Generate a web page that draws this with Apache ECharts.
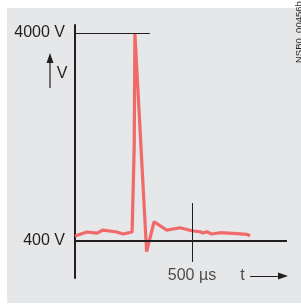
<!DOCTYPE html>
<html><head><meta charset="utf-8">
<script src="https://cdn.jsdelivr.net/npm/echarts@6/dist/echarts.min.js"></script>
<style>html,body{margin:0;padding:0;background:#fff}#c{width:301px;height:305px}</style>
</head><body><div id="c"></div>
<script>
// time (µs) and voltage (V) samples of the surge waveform
const timeUs = [0, 51, 94, 120, 179, 205, 244, 253, 256, 306, 338, 392, 449, 499, 534, 547, 563, 584, 620, 675, 734, 748];
const voltsV = [487, 556, 538, 590, 556, 521, 556, 2027, 4000, 215, 734, 590, 630, 578, 561, 538, 561, 521, 544, 533, 516, 492];
const yTickValues = [400, 4000];
const yUnit = ' V';
const timeMarkUs = 500;
const timeMarkLabel = '500 µs';
const timeAxisLabel = 't';
const valueAxisLabel = 'V';
const figureId = 'NSB0_00456b';

const FONT = "'Liberation Sans', Arial, sans-serif";
const INK = '#231f20';
const chart = echarts.init(document.getElementById('c'), null, {renderer: 'canvas'});
const lineData = timeUs.map((t, i) => [t, voltsV[i]]);
chart.setOption({
  animation: false,
  backgroundColor: '#ffffff',
  grid: {left: 75, right: 14, top: 25, bottom: 27},
  xAxis: {type: 'value', min: 0, max: 906, axisLine: {show: false}, axisTick: {show: false}, axisLabel: {show: false}, splitLine: {show: false}},
  yAxis: {type: 'value', min: -240, max: 4140,
    axisLine: {show: true, lineStyle: {color: INK, width: 2}},
    axisTick: {show: false}, splitLine: {show: false},
    axisLabel: {customValues: yTickValues, formatter: v => v + yUnit, fontSize: 16, color: INK, fontFamily: FONT, margin: 10}},
  graphic: [
    {type: 'rect', shape: {x: 7, y: 8, width: 294, height: 295}, style: {fill: '#e6e7e8'}, z: -10, silent: true},
    {type: 'line', shape: {x1: 50, y1: 62, x2: 50, y2: 88}, style: {stroke: INK, lineWidth: 1.2}},
    {type: 'polygon', shape: {points: [[50, 53], [46.5, 63], [53.5, 63]]}, style: {fill: INK}},
    {type: 'text', x: 62, y: 74, style: {text: valueAxisLabel, font: '16px ' + FONT, fill: INK, textAlign: 'center', textVerticalAlign: 'middle'}},
    {type: 'text', x: 299.5, y: 63, rotation: Math.PI / 2, style: {text: figureId, font: '9.5px ' + FONT, fill: INK, textAlign: 'left', textVerticalAlign: 'middle'}}
  ],
  series: [
    {type: 'line', data: [], silent: true, z: 1,
      markLine: {silent: true, symbol: 'none', label: {show: false}, animation: false,
        data: [
          [{coord: [0, 4000], lineStyle: {color: INK, width: 1, type: 'solid'}}, {coord: [320, 4000]}],
          [{coord: [0, 400], lineStyle: {color: INK, width: 2, type: 'solid'}}, {coord: [906, 400]}],
          [{coord: [timeMarkUs, 1058], lineStyle: {color: INK, width: 1, type: 'solid'}}, {coord: [timeMarkUs, 37]}],
          [{coord: [748, -206], symbol: 'none', lineStyle: {color: INK, width: 1, type: 'solid'}}, {coord: [889, -206], symbol: 'triangle', symbolSize: [7, 10], symbolRotate: -90}]
        ]}},
    {type: 'line', data: lineData, showSymbol: false, symbol: 'none', clip: false, z: 3,
      lineStyle: {color: '#f06a6a', width: 3.2}},
    {type: 'scatter', symbolSize: 0, silent: true, z: 4,
      data: [[timeMarkUs, -206, timeMarkLabel], [716, -206, timeAxisLabel]],
      label: {show: true, position: 'inside', formatter: p => p.value[2], fontSize: 16, color: INK, fontFamily: FONT}}
  ]
});
</script></body></html>
